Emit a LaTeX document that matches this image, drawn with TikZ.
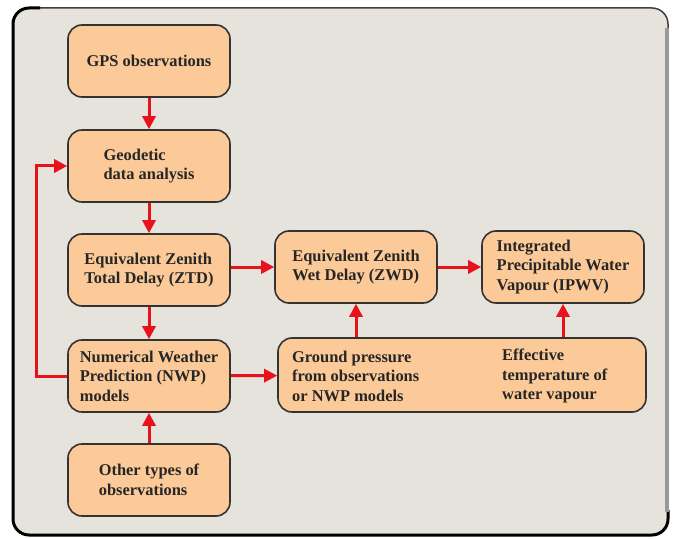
\documentclass[tikz,border=0pt]{standalone}
\usepackage{fontspec}
\setmainfont{Liberation Serif}
\usetikzlibrary{positioning,arrows.meta,calc}

\definecolor{panelbg}{RGB}{229,227,219}
\definecolor{boxfill}{RGB}{252,202,152}
\definecolor{flowred}{RGB}{232,18,28}

\begin{document}
\begin{tikzpicture}[x=1bp,y=-1bp,
  stage/.style={draw=black!80, line width=1.6bp, fill=boxfill, rounded corners=14bp,
    minimum width=162bp, minimum height=72bp, align=left, inner sep=0pt, text=black!85,
    font=\bfseries\fontsize{16.5}{19.5}\selectfont},
  info/.style={align=left, inner sep=0pt, anchor=west, text=black!85,
    font=\bfseries\fontsize{16.5}{19.5}\selectfont},
  flow/.style={draw=flowred, line width=3bp, -{Triangle[length=13bp,width=13bp]}}]
  \useasboundingbox (0,0) rectangle (676,539);
  % panel
  \fill[panelbg, rounded corners=16bp] (13,8) rectangle (668,535);
  \draw[black!75, line width=1.5bp, rounded corners=16bp] (13,8) rectangle (668,535);
  \draw[black, line width=3bp, rounded corners=16bp] (40,8) -- (13,8) -- (13,535) -- (668,535) -- (668,510);
  \draw[black!40, line width=4bp] (667,28) -- (667,512);

  \node[stage] (gps) at (149,61) {GPS observations};
  \node[stage] (geo) at (149,166) {Geodetic\\data analysis};
  \node[stage] (ztd) at (149,270) {Equivalent Zenith\\Total Delay (ZTD)};
  \node[stage] (nwp) at (149,376) {Numerical Weather\\Prediction (NWP)\\models};
  \node[stage] (other) at (149,480) {Other types of\\observations};
  \node[stage] (zwd) at (356,267) {Equivalent Zenith\\Wet Delay (ZWD)};
  \node[stage] (ipwv) at (563,267) {Integrated\\Precipitable Water\\Vapour (IPWV)};
  \node[stage, minimum width=368bp, minimum height=74bp] (ground) at (462,375) {};
  \node[info] (gp) at (292,376) {Ground pressure\\from observations\\or NWP models};
  \node[info] (teff) at (502,376) {Effective\\temperature of\\water vapour};

  \path
    (gps) edge[flow] (geo)
    (geo) edge[flow] (ztd)
    (ztd) edge[flow] (nwp)
    (other) edge[flow] (nwp)
    (nwp) edge[flow] (ground)
    (ztd.east |- zwd) edge[flow] (zwd)
    (zwd) edge[flow] (ipwv);
  \draw[flow] (ground.north -| zwd.south) -- (zwd.south);
  \draw[flow] (ground.north -| ipwv.south) -- (ipwv.south);
  \draw[flow] (nwp.west) -- ++(-31,0) |- (geo.west);
\end{tikzpicture}
\end{document}
